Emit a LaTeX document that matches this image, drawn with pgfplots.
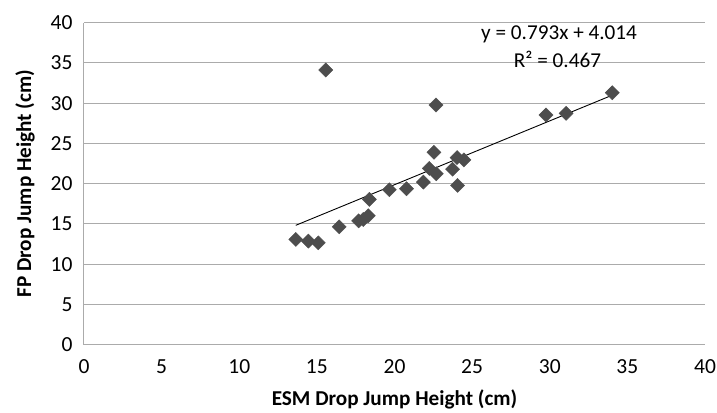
\documentclass[border=0pt]{standalone}
\usepackage{pgfplots}
\pgfplotsset{compat=1.18}
\usepackage{fontspec}
\setmainfont{Carlito}
\definecolor{gridgray}{HTML}{ABABAB}
\definecolor{markgray}{HTML}{4D4D4D}
\begin{document}
\begin{tikzpicture}
  \useasboundingbox (-84pt,-67.5pt) rectangle (633pt,344.7pt);
  \begin{axis}[
      scale only axis,
      width=621pt, height=322pt,
      xmin=0, xmax=40, ymin=0, ymax=40,
      xtick={0,5,...,40}, ytick={0,5,...,40},
      axis lines=left,
      axis line style={gridgray, line width=1pt, -},
      ymajorgrids,
      grid style={gridgray, line width=1pt},
      major tick length=0pt,
      /pgf/number format/assume math mode=true,
      tick label style={font=\fontsize{21.5}{26}\selectfont},
      xticklabel style={yshift=-11pt},
      yticklabel style={xshift=-8pt},
      label style={font=\fontsize{21.2}{26}\selectfont\bfseries},
      xlabel={ESM Drop Jump Height (cm)},
      ylabel={FP Drop Jump Height (cm)},
      xlabel style={at={(axis description cs:0.5,-0.171)}, anchor=center},
      ylabel style={at={(axis description cs:-0.095,0.5)}, anchor=center},
      clip=false,
    ]
    \addplot[only marks, mark=square*, mark size=5pt,
             mark options={rotate=45, fill=markgray, draw=markgray}] coordinates {
      (13.64,13.08) (14.45,12.87) (15.09,12.65) (15.57,34.12)
      (16.44,14.64) (17.69,15.39) (17.99,15.56) (18.31,16.01)
      (18.38,18.05) (19.67,19.25) (20.77,19.37) (21.86,20.20)
      (22.24,21.90) (22.69,21.24) (22.54,23.90) (22.67,29.77)
      (23.74,21.80) (24.06,19.79) (24.03,23.25) (24.47,22.95)
      (29.76,28.53) (31.05,28.74) (34.03,31.30)
    };
    % linear trend line, y = 0.793x + 4.014
    \addplot[black, line width=0.9pt] coordinates {(13.64,14.83) (34.03,31.00)};
    \node[font=\fontsize{21.2}{26}\selectfont] at (axis cs:30.6,38.6) {y = 0.793x + 4.014};
    \node[font=\fontsize{21.2}{26}\selectfont] at (axis cs:30.5,35.45) {R² = 0.467};
  \end{axis}
\end{tikzpicture}
\end{document}
